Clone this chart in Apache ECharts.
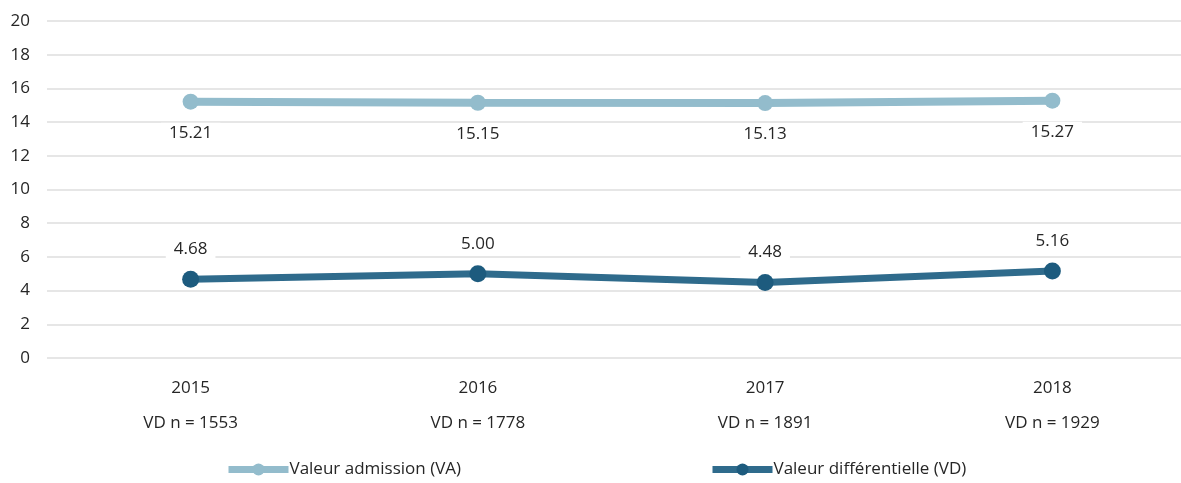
<!DOCTYPE html>
<html lang="fr">
<head>
  <meta charset="UTF-8" />
  <title>Valeur admission / Valeur différentielle</title>
  <script src="https://cdn.jsdelivr.net/npm/echarts@6.0.0/dist/echarts.min.js"></script>
  <style>
    html, body { margin: 0; padding: 0; background: #fff; }
    #chart { width: 1181px; height: 483px; }
  </style>
</head>
<body>
  <div id="chart"></div>
  <script>
    // données
    const years = ['2015', '2016', '2017', '2018'];
    const vdCounts = [1553, 1778, 1891, 1929];
    const valeurAdmission = [15.21, 15.15, 15.13, 15.27];
    const valeurDifferentielle = [4.68, 5.00, 4.48, 5.16];

    const nomVA = 'Valeur admission (VA)';
    const nomVD = 'Valeur différentielle (VD)';

    const police = '"Open Sans", "Noto Sans", sans-serif';

    const chart = echarts.init(document.getElementById('chart'));

    const labelCommun = {
      show: true,
      fontFamily: police,
      fontSize: 17,
      color: '#262626',
      backgroundColor: '#ffffff',
      padding: [2, 8],
      formatter: p => p.value.toFixed(2)
    };

    // une légende par série, placées séparément
    function legende(nom, gauche, couleur, epaisseur) {
      return {
        left: gauche, top: 456,
        itemWidth: 60, itemHeight: 15, itemGap: 4,
        lineStyle: { width: epaisseur, color: couleur },
        textStyle: { fontFamily: police, fontSize: 17, color: '#262626', padding: [0, 0, 0, -4] },
        data: [nom]
      };
    }

    chart.setOption({
      animation: false,
      grid: { left: 47, top: 21, width: 1149, height: 337, outerBoundsMode: 'none' },
      legend: [
        legende(nomVA, 220, '#93bccc', 7),
        legende(nomVD, 704, '#2f6b8c', 7)
      ],
      xAxis: {
        type: 'category',
        data: years,
        boundaryGap: true,
        axisLine: { show: false },
        axisTick: { show: false },
        axisLabel: {
          margin: 13,
          fontFamily: police,
          fontSize: 17,
          color: '#262626',
          lineHeight: 35,
          formatter: (v, i) => v + '\nVD n = ' + vdCounts[i]
        }
      },
      yAxis: {
        type: 'value',
        min: 0, max: 20, interval: 2,
        axisLine: { show: false },
        axisTick: { show: false },
        axisLabel: { margin: 17, fontFamily: police, fontSize: 17, color: '#262626' },
        splitLine: { lineStyle: { color: '#dedede', width: 1.5 } }
      },
      series: [
        {
          name: nomVA,
          type: 'line',
          data: valeurAdmission,
          symbol: 'circle',
          symbolSize: 16,
          lineStyle: { color: '#93bccc', width: 8 },
          itemStyle: { color: '#93bccc' },
          label: Object.assign({}, labelCommun, { position: 'bottom', distance: 13 })
        },
        {
          name: nomVD,
          type: 'line',
          data: valeurDifferentielle,
          symbol: 'circle',
          symbolSize: 17,
          lineStyle: { color: '#2f6b8c', width: 7 },
          itemStyle: { color: '#1d5b7e' },
          label: Object.assign({}, labelCommun, { position: 'top', distance: 11 })
        }
      ]
    });
  </script>
</body>
</html>
